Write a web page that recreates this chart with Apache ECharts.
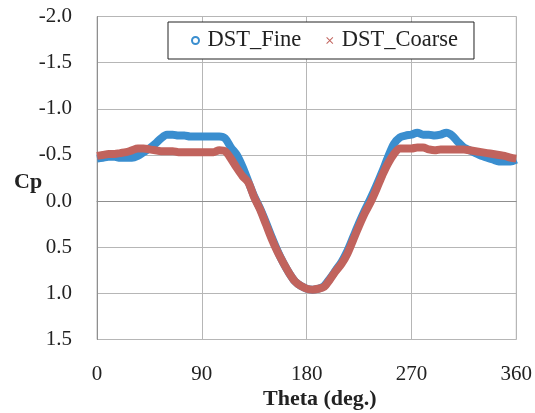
<!DOCTYPE html>
<html>
<head>
<meta charset="utf-8">
<script src="https://cdn.jsdelivr.net/npm/echarts@6/dist/echarts.min.js"></script>
<style>
  html, body { margin: 0; padding: 0; background: #fff; }
  #chart { width: 535px; height: 413px; }
</style>
</head>
<body>
<div id="chart"></div>
<script>
    // theta (deg.), every 5 degrees
    var theta = [];
    for (var t = 0; t <= 360; t += 5) theta.push(t);

    // Cp
    var fineCp = [
        -0.46, -0.47, -0.48, -0.48, -0.47, -0.47, -0.47, -0.49, -0.53, -0.57,
        -0.62, -0.68, -0.72, -0.72, -0.71, -0.71, -0.70, -0.70, -0.70, -0.70,
        -0.70, -0.70, -0.68, -0.58, -0.50, -0.37, -0.21, -0.05, 0.08, 0.23,
        0.39, 0.54, 0.67, 0.78, 0.87, 0.92, 0.95, 0.96, 0.95, 0.92,
        0.84, 0.75, 0.66, 0.54, 0.39, 0.24, 0.10, -0.03, -0.17, -0.32,
        -0.48, -0.62, -0.69, -0.71, -0.72, -0.74, -0.72, -0.72, -0.71, -0.72,
        -0.74, -0.71, -0.64, -0.58, -0.55, -0.52, -0.49, -0.47, -0.45, -0.43,
        -0.43, -0.43, -0.45
    ];
    var coarseCp = [
        -0.49, -0.50, -0.51, -0.51, -0.52, -0.53, -0.55, -0.57, -0.57, -0.56,
        -0.55, -0.54, -0.54, -0.54, -0.53, -0.53, -0.53, -0.53, -0.53, -0.53,
        -0.53, -0.55, -0.54, -0.46, -0.36, -0.27, -0.20, -0.04, 0.09, 0.25,
        0.41, 0.55, 0.67, 0.78, 0.87, 0.92, 0.95, 0.96, 0.95, 0.93,
        0.85, 0.76, 0.68, 0.57, 0.42, 0.27, 0.13, 0.01, -0.13, -0.28,
        -0.41, -0.51, -0.57, -0.57, -0.57, -0.58, -0.58, -0.56, -0.55, -0.56,
        -0.56, -0.56, -0.56, -0.56, -0.55, -0.54, -0.53, -0.52, -0.51, -0.50,
        -0.49, -0.47, -0.46
    ];

    var seriesNames = ['DST_Fine', 'DST_Coarse'];
    var xTicks = [0, 90, 180, 270, 360];

    function pairs(ys) {
        return theta.map(function (x, i) { return [x, ys[i]]; });
    }

    var font = '"Liberation Serif", "Times New Roman", serif';
    var blue = '#3a8ecf';
    var red = '#c1635d';
    var starIcon = 'path://M0,1 L1,0 L5,4 L9,0 L10,1 L6,5 L10,9 L9,10 L5,6 L1,10 L0,9 L4,5 Z';

    var chart = echarts.init(document.getElementById('chart'));

    var option = {
        backgroundColor: '#fff',
        animation: false,
        textStyle: { fontFamily: font },
        grid: {
            left: 97, right: 16, top: 16.5, bottom: 73.5,
            show: true, borderColor: '#bcbcbc', borderWidth: 1
        },
        legend: {
            left: 168, top: 22,
            padding: [7, 16, 7, 23],
            itemGap: 25,
            itemWidth: 14, itemHeight: 7,
            borderColor: '#222', borderWidth: 1,
            backgroundColor: '#fff',
            textStyle: { fontFamily: font, fontSize: 22.5, color: '#222' },
            data: [
                { name: seriesNames[0], icon: 'emptyCircle' },
                { name: seriesNames[1], icon: starIcon }
            ]
        },
        xAxis: {
            type: 'value',
            min: 0, max: 360, interval: 90,
            axisLine: { show: true, lineStyle: { color: '#8f8f8f', width: 1 } },
            axisTick: { show: false },
            axisLabel: {
                margin: 24,
                fontFamily: font, fontSize: 21, color: '#222',
                formatter: function (v) { return xTicks.indexOf(v) >= 0 ? String(v) : ''; }
            },
            splitLine: { show: true, lineStyle: { color: '#b6b6b6', width: 1 } }
        },
        yAxis: {
            type: 'value',
            inverse: true,
            min: -2, max: 1.5, interval: 0.5,
            axisLine: { show: true, onZero: false, lineStyle: { color: '#8f8f8f', width: 1 } },
            axisTick: { show: false },
            axisLabel: {
                margin: 25,
                fontFamily: font, fontSize: 21, color: '#222',
                formatter: function (v) { return v.toFixed(1); }
            },
            splitLine: { show: true, lineStyle: { color: '#b6b6b6', width: 1 } }
        },
        graphic: [
            {
                type: 'text', left: 263, top: 388,
                style: { text: 'Theta (deg.)', font: 'bold 22px ' + font, fill: '#222' }
            },
            {
                type: 'text', left: 14, top: 171,
                style: { text: 'Cp', font: 'bold 22px ' + font, fill: '#222' }
            }
        ],
        series: [
            {
                name: seriesNames[0],
                type: 'line',
                data: pairs(fineCp),
                smooth: 0.3,
                showSymbol: false,
                color: blue,
                lineStyle: { color: blue, width: 8 },
                z: 2
            },
            {
                name: seriesNames[1],
                type: 'line',
                data: pairs(coarseCp),
                smooth: 0.3,
                showSymbol: false,
                color: red,
                lineStyle: { color: red, width: 8 },
                z: 3
            }
        ]
    };

    chart.setOption(option);
</script>
</body>
</html>
